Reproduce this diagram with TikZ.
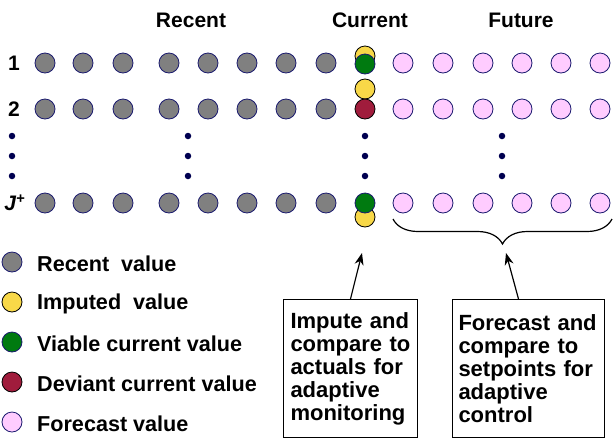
\documentclass[tikz,border=0pt]{standalone}
\usepackage{fontspec}
\setmainfont{Liberation Sans}
\usetikzlibrary{decorations.pathreplacing,arrows.meta}

\definecolor{recentgray}{HTML}{808080}
\definecolor{rimblue}{HTML}{1A1A6E}
\definecolor{imputeyellow}{HTML}{F8D848}
\definecolor{viablegreen}{HTML}{007A10}
\definecolor{deviantred}{HTML}{A01C3C}
\definecolor{forecastpink}{HTML}{FFCCFF}
\definecolor{dotblue}{HTML}{000050}

\tikzset{
    val/.style={shape=circle,minimum size=20pt,inner sep=0pt,line width=0.8pt},
    recent/.style={val,fill=recentgray,draw=rimblue},
    imputed/.style={val,fill=imputeyellow,draw=black},
    viable/.style={val,fill=viablegreen,draw=rimblue},
    deviant/.style={val,fill=deviantred,draw=black},
    forecast/.style={val,fill=forecastpink,draw=rimblue},
    vdot/.style={shape=circle,fill=dotblue,inner sep=0pt,minimum size=6.5pt},
    lbl/.style={font=\bfseries\fontsize{21}{23}\selectfont,inner sep=0pt},
    legtext/.style={font=\bfseries\fontsize{21.6}{23}\selectfont,inner sep=0pt,anchor=west},
    notebox/.style={draw=black,line width=1pt,align=left,anchor=north west,
        inner ysep=7pt,minimum height=138pt,font=\bfseries\fontsize{22}{23}\selectfont},
    pointer/.style={-{Stealth[length=12pt,width=9pt]},line width=1.2pt}
}

\begin{document}
\begin{tikzpicture}[x=1pt,y=-1pt]
                \useasboundingbox (0,0) rectangle (613,440);

                % column headings
                \node[lbl] (hRecent) at (191,20) {Recent};
                \node[lbl] (hCurrent) at (370,20) {Current};
                \node[lbl] (hFuture) at (521,20) {Future};

                % row labels
                \node[lbl] (lab1) at (14,63) {1};
                \node[lbl] (lab2) at (14,109) {2};
                \node[lbl] (labJ) at (15,203) {\textit{J}\textsuperscript{+}};

                % recent and forecast values
                \foreach \r/\y in {1/63,2/109,J/203} {
                    \foreach \x [count=\i] in {45,83,123,169,208,247,286,326}
                        \node[recent] (r\r c\i) at (\x,\y) {};
                    \foreach \x [count=\i] in {403,443,483,522,561,600}
                        \node[forecast] (f\r c\i) at (\x,\y) {};
                }

                % current values
                \node[imputed] (cur1i) at (365,56) {};
                \node[viable] (cur1) at (365,64) {};
                \node[imputed] (cur2i) at (365,89) {};
                \node[deviant] (cur2) at (365,109) {};
                \node[imputed] (curJi) at (365,217) {};
                \node[viable] (curJ) at (365,203) {};

                % vertical ellipses
                \foreach \x [count=\i] in {12,188,365,502}
                    \foreach \y [count=\j] in {136,156,176}
                        \node[vdot] (d\i\j) at (\x,\y) {};

                % legend
                \node[recent] (key1) at (12,262) {};
                \node[imputed] (key2) at (12,302) {};
                \node[viable] (key3) at (12,342) {};
                \node[deviant] (key4) at (12,382) {};
                \node[forecast] (key5) at (12,422) {};
                \node[legtext] (leg1) at (37,264) {Recent\ \ value};
                \node[legtext] (leg2) at (37,304) {Imputed\ \ value};
                \node[legtext] (leg3) at (37,344) {Viable current value};
                \node[legtext] (leg4) at (37,384) {Deviant current value};
                \node[legtext] (leg5) at (37,424) {Forecast value};

                % forecast brace
                \draw[line width=1.2pt,decorate,decoration={brace,mirror,amplitude=25pt}]
                    (393,219) -- (612,219);

                % notes
                \node[notebox,inner xsep=7pt,text width=120pt] (box1) at (283,299)
                    {Impute and\\compare to\\actuals for\\adaptive\\monitoring};
                \node[notebox,inner xsep=6pt,text width=140pt] (box2) at (452,299)
                    {Forecast and\\compare to\\setpoints for\\adaptive\\control};

                \coordinate (curtip) at (362,253);
                \coordinate (bracetip) at (506,253);
                \draw[pointer] (box1.north) -- (curtip);
                \draw[pointer] ([xshift=-10pt]box2.north) -- (bracetip);
            \end{tikzpicture}
\end{document}
